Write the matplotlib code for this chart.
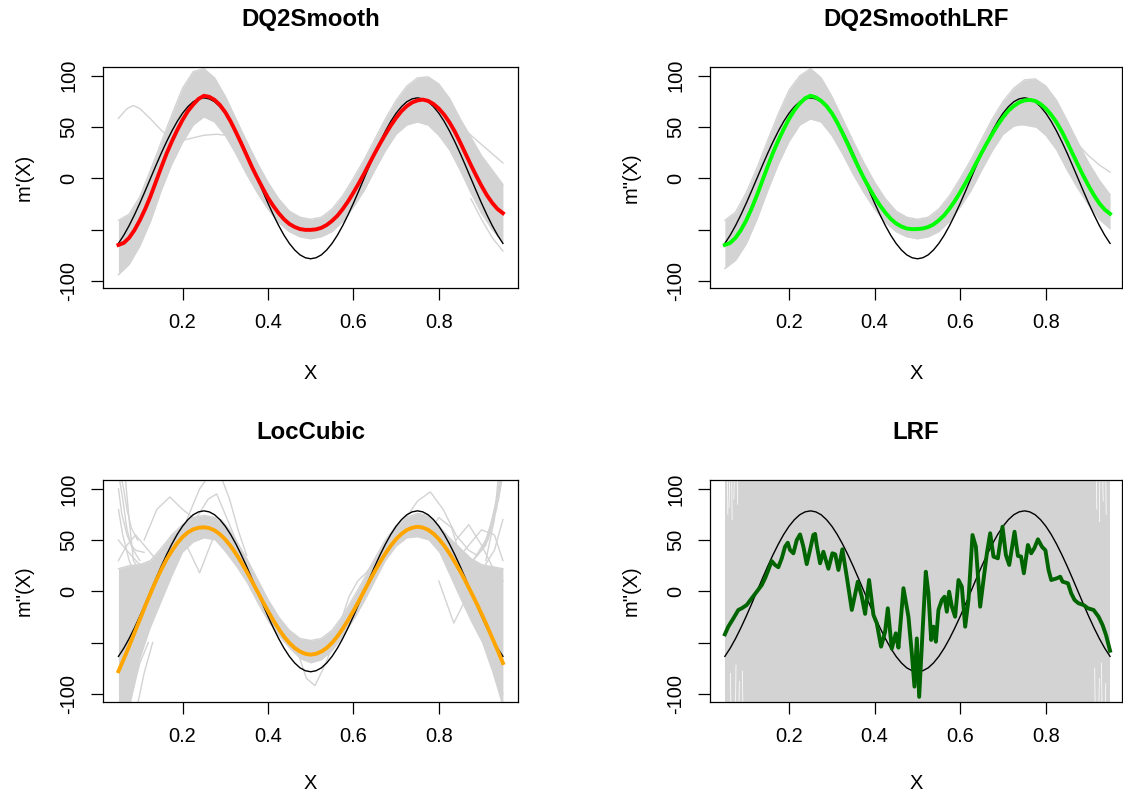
import numpy as np
import matplotlib
matplotlib.use("Agg")
import matplotlib.pyplot as plt

plt.rcParams['font.family'] = ['Liberation Sans', 'DejaVu Sans']

# ---------------- data ----------------
x_fine = np.linspace(0.05, 0.95, 73)    # sampling grid, step 0.0125
x_band = np.linspace(0.05, 0.95, 37)    # sampling grid, step 0.025

true_curve = [-63.5, -55.5, -46.1, -35.6, -24.3, -12.3, 0, 12.3, 24.3, 35.6, 46.1, 55.5, 63.5, 69.9, 74.7, 77.5, 78.5,
              77.5, 74.7, 69.9, 63.5, 55.5, 46.1, 35.6, 24.3, 12.3, 0, -12.3, -24.3, -35.6, -46.1, -55.5, -63.5, -69.9, -74.7, -77.5,
              -78.5, -77.5, -74.7, -69.9, -63.5, -55.5, -46.1, -35.6, -24.3, -12.3, 0, 12.3, 24.3, 35.6, 46.1, 55.5, 63.5, 69.9, 74.7,
              77.5, 78.5, 77.5, 74.7, 69.9, 63.5, 55.5, 46.1, 35.6, 24.3, 12.3, 0, -12.3, -24.3, -35.6, -46.1, -55.5, -63.5]

dq2smooth_mean = [-65, -63, -58, -50.5, -41, -30, -17.5, -3.5, 10.5, 24, 36, 47, 57, 65.5, 72, 77.5, 80.5,
                  79.5, 76.5, 71.5, 64.5, 55.5, 45, 34, 22.5, 11, 0.5, -9.5, -19, -27, -34, -40, -44.5, -47.5, -49.5, -50.3,
                  -50.3, -49.8, -48.3, -45.5, -41.5, -36.5, -30, -22.5, -14, -5, 4.5, 14.5, 24.5, 34, 43, 51.5, 59, 65.5, 70.5,
                  74, 76, 76.8, 75.5, 72.5, 68, 62, 54.5, 45.5, 35, 24, 13, 2.5, -7.5, -16.5, -24, -30, -34]

dq2smoothlrf_mean = [-65, -63, -58, -50.5, -41, -29.5, -16.5, -2.5, 11.5, 25, 37, 48, 58, 66.5, 73, 78, 80.5,
                     79, 75.5, 70.5, 63.5, 54.5, 44, 33, 21.5, 10.5, 0, -9.5, -18.5, -26.5, -33.5, -39.5, -44, -47, -49, -49.6,
                     -49.5, -49, -47.5, -45, -41, -36, -29.5, -22, -13.5, -4.5, 5, 15, 25, 34.5, 43.5, 52, 59.5, 66, 70.5,
                     74, 76, 76.5, 75.5, 72.5, 68, 62, 54.5, 45.5, 35, 24, 13, 2.5, -7.5, -16.5, -24.5, -30.5, -34.6]

loccubic_mean = [-78, -66, -53.5, -40.5, -27.5, -14.5, -2, 10, 21, 31, 39.5, 47, 53, 57.5, 60.5, 62, 62.5,
                 61.7, 59.4, 55.7, 50.6, 44.2, 36.7, 28.4, 19.3, 9.8, 0, -9.8, -19.3, -28.4, -36.7, -44.2, -50.3, -55.3, -58.8, -61,
                 -61.8, -61, -58.8, -55.3, -50.3, -44, -36.5, -28.2, -19.2, -9.7, 0.2, 10, 19.5, 28.6, 37, 44.5, 51, 56, 59.8,
                 62, 63, 62.2, 60, 56.2, 51, 44.5, 37, 28.5, 19.5, 9.8, -0.5, -11, -22, -33.5, -45.5, -57.5, -70]

lrf_x = [0.05, 0.058, 0.070, 0.0815, 0.0894, 0.101, 0.1128, 0.1245, 0.1362, 0.1439, 0.1516, 0.1595, 0.1673, 0.175, 0.183,
         0.1906, 0.197, 0.2023, 0.2101, 0.218, 0.2257, 0.2335, 0.2413, 0.249, 0.2568, 0.2608, 0.2647, 0.2725, 0.2802, 0.2919,
         0.3013, 0.3080, 0.3153, 0.3246, 0.3349, 0.3466, 0.3606, 0.37, 0.3777, 0.387, 0.3971, 0.405, 0.415, 0.4244, 0.4307,
         0.44, 0.4494, 0.4556, 0.4673, 0.479, 0.4868, 0.4930, 0.4985, 0.504, 0.5117, 0.5195, 0.5257, 0.532, 0.5374, 0.543,
         0.5491, 0.557, 0.5631, 0.5686, 0.574, 0.5804, 0.588, 0.5959, 0.6037, 0.6115, 0.6192, 0.6286, 0.6365, 0.6465, 0.6543,
         0.6622, 0.6699, 0.6777, 0.6879, 0.6987, 0.7066, 0.7144, 0.7268, 0.7347, 0.7420, 0.7486, 0.7581, 0.7658, 0.7730,
         0.7815, 0.7908, 0.7990, 0.8063, 0.8126, 0.8259, 0.8336, 0.839, 0.8516, 0.8593, 0.8671, 0.8764, 0.8881, 0.8984,
         0.9115, 0.9232, 0.9325, 0.9405, 0.95]
lrf_mean = [-42, -34.5, -26.4, -18.2, -16.6, -13.4, -6.8, -0.4, 6.1, 12.7, 20.8, 29.5, 25.7, 23.5, 32.2,
            43.5, 47.4, 40.3, 37.1, 50, 55.5, 43.5, 26.5, 40.3, 55, 56, 45, 27.3, 38.6, 22,
            37.1, 36, 20.8, 41, 14.2, -18.2, 9.4, -5.3, -22, 11, -23, -31.2, -54, -39.4, -16.6,
            -56, -41, -55, 3, -25, -60.5, -93, -46, -103, -41, 19.1, -2, -47.5, -34.5, -49.2,
            -18.2, -8.5, -5.3, -19.9, -0.4, -15, -24.8, 11, 4.5, -34.5, -8.5, 54.9, 43.5, -15, 11,
            37.1, 56.6, 33.8, 32.2, 63, 35.4, 25.7, 58.1, 34.5, 34, 17.6, 45.2, 37.1, 42,
            50.7, 43.5, 40, 20.8, 11, 12.7, 14.2, 9.4, 7.8, -2, -8.5, -11.7, -13.4, -16.6,
            -18.2, -24.8, -32.9, -42.6, -58]

# replicate spread (grey envelopes), 0.025 grid
dq2_upper = [-41, -35, -18, 8, 35, 62, 88, 104, 107, 98, 80, 58, 36, 15, -4, -20, -32, -38, -40,
             -38, -30, -17, 0, 18, 38, 58, 76, 90, 98, 99, 92, 78, 58, 40, 22, 8, -6]
dq2_lower = [-94, -84, -66, -42, -12, 14, 35, 52, 60, 55, 42, 24, 4, -14, -30, -43, -52, -57, -59,
             -57, -52, -42, -28, -12, 8, 27, 43, 52, 55, 52, 42, 28, 8, -14, -34, -50, -62]
dq2lrf_upper = [-41, -33, -14, 10, 37, 63, 86, 100, 107, 98, 80, 58, 36, 15, -4, -20, -32, -38, -40,
                -38, -30, -17, 0, 18, 38, 58, 75, 88, 96, 97, 90, 76, 56, 35, 15, -2, -16]
dq2lrf_lower = [-88, -80, -64, -40, -12, 14, 36, 52, 58, 55, 42, 24, 4, -14, -30, -43, -52, -57, -59,
                -57, -52, -42, -28, -12, 8, 27, 43, 51, 53, 51, 42, 28, 8, -10, -26, -40, -49]
lc_upper = [22, 25, 26, 30, 42, 55, 65, 72, 74, 72, 63, 50, 32, 12, -8, -25, -38, -46, -48,
            -46, -38, -24, -6, 12, 32, 50, 64, 72, 76, 74, 64, 52, 42, 32, 26, 24, 22]
lc_lower = [-115, -115, -66, -35, -10, 15, 38, 48, 52, 50, 38, 24, 8, -12, -30, -44, -56, -66, -70,
            -67, -58, -44, -28, -10, 10, 30, 44, 52, 53, 50, 38, 15, -8, -30, -50, -80, -115]

# individual outlying replicates
dq2_out_x = [[0.05, 0.07, 0.085, 0.10, 0.125, 0.15, 0.175, 0.19, 0.21, 0.25, 0.28, 0.30, 0.325, 0.35],
             [0.80, 0.825, 0.85, 0.875, 0.90, 0.925, 0.95],
             [0.875, 0.90, 0.925, 0.95]]
dq2_out_y = [[58.5, 68, 71, 68, 58, 47, 38, 36, 38, 42, 43, 42, 35, 20],
             [75, 66, 52, 42, 33, 24, 15],
             [-20, -40, -58, -71]]
dq2lrf_out_x = [[0.80, 0.825, 0.85, 0.875, 0.90, 0.925, 0.95],
                [0.70, 0.725, 0.75, 0.775]]
dq2lrf_out_y = [[68, 60, 44, 33, 22, 13, 6],
                [52, 53, 52, 50]]
lc_out_x = [[0.05, 0.06, 0.07, 0.08, 0.09, 0.11],
            [0.05, 0.065, 0.075, 0.085, 0.10, 0.12],
            [0.05, 0.06, 0.075, 0.09, 0.11],
            [0.05, 0.07, 0.085, 0.10, 0.12],
            [0.05, 0.08, 0.095, 0.11, 0.13],
            [0.05, 0.058, 0.07, 0.085, 0.10],
            [0.05, 0.065, 0.08, 0.095, 0.115],
            [0.05, 0.07, 0.09, 0.12, 0.14],
            [0.055, 0.062, 0.07, 0.08, 0.095],
            [0.20, 0.22, 0.24, 0.26, 0.29, 0.31, 0.33, 0.35],
            [0.19, 0.215, 0.24, 0.265, 0.29, 0.31, 0.33],
            [0.11, 0.14, 0.17, 0.20, 0.23, 0.26, 0.28, 0.30, 0.33],
            [0.45, 0.47, 0.49, 0.51, 0.53, 0.55, 0.57],
            [0.57, 0.59, 0.61, 0.63, 0.65],
            [0.72, 0.75, 0.78, 0.81, 0.84, 0.87, 0.89],
            [0.78, 0.80, 0.83, 0.86, 0.88, 0.91, 0.93, 0.95],
            [0.90, 0.92, 0.935, 0.945],
            [0.91, 0.93, 0.94, 0.95],
            [0.80, 0.835, 0.86, 0.89, 0.92, 0.95],
            [0.88, 0.91, 0.94, 0.95],
            [0.90, 0.93, 0.95],
            [0.86, 0.90, 0.93, 0.95],
            [0.84, 0.87, 0.90, 0.93, 0.95],
            [0.89, 0.915, 0.935, 0.948]]
lc_out_y = [[115, 90, 60, 45, 40, 38],
            [115, 115, 70, 30, 20, 15],
            [80, 55, 30, 15, 10],
            [-115, -115, -95, -70, -50],
            [-115, -115, -110, -80, -50],
            [100, 75, 55, 40, 30],
            [50, 42, 35, 28, 22],
            [30, 45, 55, 40, 30],
            [115, 100, 80, 62, 50],
            [60, 80, 100, 112, 112, 90, 60, 35],
            [60, 40, 18, 45, 70, 60, 45],
            [50, 80, 92, 80, 70, 90, 95, 75, 45],
            [-45, -60, -85, -92, -75, -55, -40],
            [-30, -5, 10, 18, 30],
            [70, 88, 97, 80, 55, 40, 35],
            [60, 72, 62, 20, 30, 45, 80, 115],
            [40, 60, 90, 115],
            [30, 70, 115, 115],
            [10, -31, -10, -25, -60, -100],
            [30, 50, 90, 115],
            [20, 40, 70],
            [40, 60, 55, 30],
            [50, 65, 45, 20, 10],
            [35, 50, 80, 115]]
lrf_spread_x = [0.05, 0.95]
lrf_spread_lo = [-115, -115]
lrf_spread_hi = [115, 115]
# thin gaps in the LRF replicate cloud near the boundaries
lrf_gap_x = [[0.056, 0.057], [0.061, 0.060], [0.066, 0.067], [0.072, 0.071], [0.079, 0.080],
             [0.064, 0.063], [0.075, 0.076], [0.083, 0.084], [0.092, 0.091],
             [0.918, 0.919], [0.926, 0.925], [0.933, 0.934], [0.940, 0.941],
             [0.915, 0.914], [0.924, 0.925], [0.931, 0.930], [0.939, 0.940]]
lrf_gap_y = [[108, 75], [108, 82], [108, 70], [108, 90], [108, 85],
             [-108, -80], [-108, -72], [-108, -88], [-108, -78],
             [108, 80], [108, 68], [108, 88], [108, 75],
             [-108, -75], [-108, -85], [-108, -70], [-108, -90]]

titles = ["DQ2Smooth", "DQ2SmoothLRF", "LocCubic", "LRF"]
ylabels = ["m'(X)", 'm"(X)', 'm"(X)', 'm"(X)']
x_ticks = [0.2, 0.4, 0.6, 0.8]
x_tick_labels = ["0.2", "0.4", "0.6", "0.8"]
y_ticks = [-100, -50, 0, 50, 100]
y_tick_labels = ["-100", "", "0", "50", "100"]

# ---------------- drawing ----------------
GRAY = '#D3D3D3'
W, H = 1123, 797
fig = plt.figure(figsize=(W / 100, H / 100), dpi=100)


def make_ax(left, top, right, bottom, xlim, ylim):
    return fig.add_axes([left / W, 1 - bottom / H, (right - left) / W, (bottom - top) / H]), xlim, ylim


def style(ax, xlim, ylim, title, ylabel, box_w, box_h, xlab_off):
    ax.set_xlim(*xlim)
    ax.set_ylim(*ylim)
    ax.set_xticks(x_ticks)
    ax.set_xticklabels(x_tick_labels)
    ax.set_yticks(y_ticks)
    ax.set_yticklabels(y_tick_labels, rotation=90, va='center')
    ax.tick_params(direction='out', length=8.4, width=0.9, labelsize=14.4, pad=9.5, colors='black')
    for s in ax.spines.values():
        s.set_linewidth(0.9)
        s.set_color('black')
    ax.text(0.5, 1 + 47.5 / box_h, title, transform=ax.transAxes, ha='center', va='center',
            fontsize=17.3, fontweight='bold')
    ax.text(0.5, -xlab_off / box_h, "X", transform=ax.transAxes, ha='center', va='center', fontsize=14.4)
    ax.text(-79 / box_w, 0.5, ylabel, transform=ax.transAxes, ha='center', va='center',
            rotation=90, fontsize=14.4)


ax1, xl1, yl1 = make_ax(103.3, 67.3, 518, 288.3, (0.0145, 0.9853), (-107.3, 108.3))
ax2, xl2, yl2 = make_ax(710, 67.3, 1122.3, 288.3, (0.0153, 0.9786), (-107.3, 108.3))
ax3, xl3, yl3 = make_ax(103.3, 480, 518, 702.3, (0.0145, 0.9853), (-108.3, 108.6))
ax4, xl4, yl4 = make_ax(710, 480, 1122.3, 702.3, (0.0153, 0.9786), (-108.3, 108.6))

# panel 1
ax1.fill_between(x_band, dq2_lower, dq2_upper, color=GRAY, lw=0)
ax1.plot(x_band, dq2_lower, color=GRAY, lw=1)
ax1.plot(x_band, dq2_upper, color=GRAY, lw=1)
for xs, ys in zip(dq2_out_x, dq2_out_y):
    ax1.plot(xs, ys, color=GRAY, lw=1)
ax1.plot(x_fine, true_curve, color='black', lw=1.0)
ax1.plot(x_fine, dq2smooth_mean, color='#FF0000', lw=2.8)

# panel 2
ax2.fill_between(x_band, dq2lrf_lower, dq2lrf_upper, color=GRAY, lw=0)
ax2.plot(x_band, dq2lrf_lower, color=GRAY, lw=1)
ax2.plot(x_band, dq2lrf_upper, color=GRAY, lw=1)
for xs, ys in zip(dq2lrf_out_x, dq2lrf_out_y):
    ax2.plot(xs, ys, color=GRAY, lw=1)
ax2.plot(x_fine, true_curve, color='black', lw=1.0)
ax2.plot(x_fine, dq2smoothlrf_mean, color='#00FF00', lw=2.8)

# panel 3
ax3.fill_between(x_band, lc_lower, lc_upper, color=GRAY, lw=0)
ax3.plot(x_band, lc_upper, color=GRAY, lw=1)
for xs, ys in zip(lc_out_x, lc_out_y):
    ax3.plot(xs, ys, color=GRAY, lw=1)
ax3.plot(x_fine, true_curve, color='black', lw=1.0)
ax3.plot(x_fine, loccubic_mean, color='#FFA500', lw=2.8)

# panel 4
ax4.fill_between(lrf_spread_x, lrf_spread_lo, lrf_spread_hi, color=GRAY, lw=0)
for xs, ys in zip(lrf_gap_x, lrf_gap_y):
    ax4.plot(xs, ys, color='white', lw=0.6, alpha=0.9)
ax4.plot(x_fine, true_curve, color='black', lw=1.0)
ax4.plot(lrf_x, lrf_mean, color='#006400', lw=2.8)

style(ax1, xl1, yl1, titles[0], ylabels[0], 414.7, 221, 85)
style(ax2, xl2, yl2, titles[1], ylabels[1], 412.3, 221, 85)
style(ax3, xl3, yl3, titles[2], ylabels[2], 414.7, 222.3, 81)
style(ax4, xl4, yl4, titles[3], ylabels[3], 412.3, 222.3, 81)

fig.savefig("out.png", dpi=100)
